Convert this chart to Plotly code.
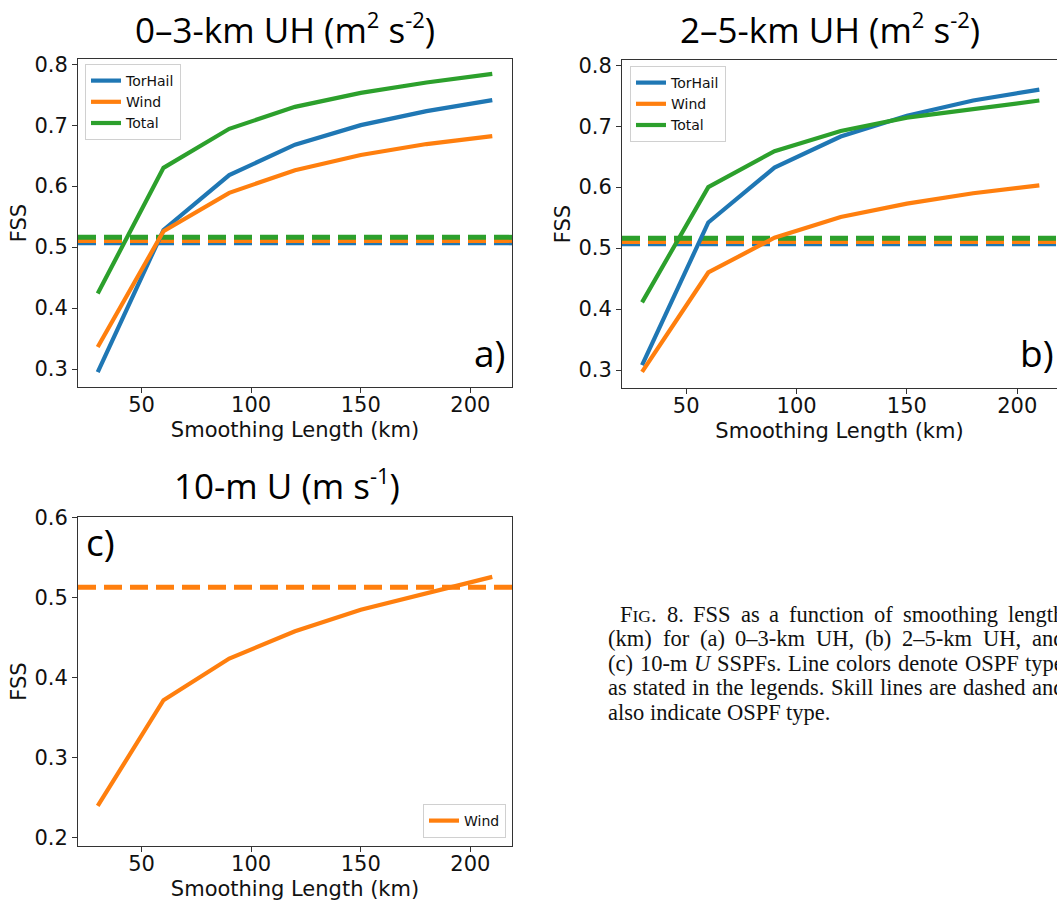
import plotly.graph_objects as go

W, H = 1057, 901

# ---------------- data ----------------
smoothing_km = [30, 60, 90, 120, 150, 180, 210]

a_torhail = [0.295, 0.528, 0.618, 0.668, 0.700, 0.723, 0.741]
a_wind = [0.336, 0.526, 0.589, 0.626, 0.651, 0.669, 0.682]
a_total = [0.424, 0.630, 0.694, 0.730, 0.753, 0.770, 0.784]
a_skill = {"TorHail": 0.507, "Wind": 0.511, "Total": 0.516}

b_torhail = [0.308, 0.542, 0.632, 0.683, 0.717, 0.742, 0.760]
b_wind = [0.297, 0.460, 0.517, 0.551, 0.573, 0.590, 0.603]
b_total = [0.411, 0.600, 0.659, 0.692, 0.714, 0.728, 0.742]
b_skill = {"TorHail": 0.507, "Wind": 0.511, "Total": 0.516}

c_wind = [0.240, 0.372, 0.424, 0.458, 0.485, 0.506, 0.526]
c_skill = {"Wind": 0.513}

x_ticks = [50, 100, 150, 200]
ab_yticks = [0.3, 0.4, 0.5, 0.6, 0.7, 0.8]
c_yticks = [0.2, 0.3, 0.4, 0.5, 0.6]

SUP = "<sup><span style='font-size:22px'>{}</span></sup>"
titles = ["0\u20133-km UH (m" + SUP.format("2") + " s" + SUP.format("-2") + ")",
          "2\u20135-km UH (m" + SUP.format("2") + " s" + SUP.format("-2") + ")",
          "10-m U (m s" + SUP.format("-1") + ")"]

caption_lines = [
    "F\u0001IG\u0002. 8. FSS as a function of smoothing length",
    "(km) for (a) 0\u20133-km UH, (b) 2\u20135-km UH, and",
    "(c) 10-m \u0003U\u0004 SSPFs. Line colors denote OSPF type",
    "as stated in the legends. Skill lines are dashed and",
    "also indicate OSPF type.",
]

colors = {"TorHail": "#1f77b4", "Wind": "#ff7f0e", "Total": "#2ca02c"}

# ---------------- layout helpers ----------------
def px_x(p):
    return p / W

def px_y(p):
    return 1 - p / H

fig = go.Figure()

panels = [
    ("a", "x", "y", (78, 512), (59, 387), [21, 219], [0.2705, 0.8085], ab_yticks),
    ("b", "x2", "y2", (622, 1057), (60, 388), [20.9, 218.0], [0.2705, 0.8085], ab_yticks),
    ("c", "x3", "y3", (78, 512), (517, 846), [21, 219], [0.19, 0.6007], c_yticks),
]

series = {
    "a": [("TorHail", a_torhail), ("Wind", a_wind), ("Total", a_total)],
    "b": [("TorHail", b_torhail), ("Wind", b_wind), ("Total", b_total)],
    "c": [("Wind", c_wind)],
}
skills = {"a": a_skill, "b": b_skill, "c": c_skill}
legend_ids = {"a": "legend", "b": "legend2", "c": "legend3"}

tick_font = dict(family="DejaVu Sans", size=21, color="#111111")
axis_line = "#333333"

shapes = []
for name, xa, ya, xd, yd, xr, yr, yt in panels:
    xkey = "xaxis" if xa == "x" else "xaxis" + xa[1:]
    ykey = "yaxis" if ya == "y" else "yaxis" + ya[1:]
    fig.update_layout({
        xkey: dict(domain=[px_x(xd[0]), min(1.0, px_x(xd[1]))], range=xr, anchor=ya,
                   tickvals=x_ticks, ticks="outside", ticklen=5, tickwidth=1,
                   tickcolor=axis_line, showline=True, linecolor=axis_line, linewidth=1,
                   mirror=True, showgrid=False, zeroline=False, tickfont=tick_font,
                   ticklabelstandoff=-6,
                   title=dict(text="Smoothing Length (km)", font=tick_font, standoff=6),
                   automargin=False),
        ykey: dict(domain=[px_y(yd[1]), px_y(yd[0])], range=yr, anchor=xa,
                   tickvals=yt, ticktext=[f"{v:.1f}" for v in yt], ticks="outside",
                   ticklen=5, tickwidth=1, tickcolor=axis_line, showline=True,
                   linecolor=axis_line, linewidth=1, mirror=(name != "b"),
                   showgrid=False, zeroline=False, tickfont=tick_font,
                   title=dict(text="FSS", font=tick_font, standoff=2),
                   automargin=False),
    })
    for sname, sval in skills[name].items():
        shapes.append(dict(type="line", xref=f"{xa} domain", yref=ya, x0=0, x1=1,
                           y0=sval, y1=sval, layer="below",
                           line=dict(color=colors[sname], width=5, dash="18px,8px")))
    for sname, vals in series[name]:
        fig.add_trace(go.Scatter(x=smoothing_km, y=vals, mode="lines", name=sname,
                                 xaxis=xa, yaxis=ya, legend=legend_ids[name],
                                 line=dict(color=colors[sname], width=4.2),
                                 showlegend=True))

legend_common = dict(font=dict(family="DejaVu Sans", size=14, color="#111111"),
                     bgcolor="rgba(255,255,255,0.9)", bordercolor="#d0d0d0",
                     borderwidth=1, xref="paper", yref="paper")
fig.update_layout(
    legend=dict(x=px_x(85), y=px_y(64), xanchor="left", yanchor="top", **legend_common),
    legend2=dict(x=px_x(630), y=px_y(66), xanchor="left", yanchor="top", **legend_common),
    legend3=dict(x=px_x(506), y=px_y(838), xanchor="right", yanchor="bottom", **legend_common),
)

annotations = []
title_font = dict(family="Open Sans", size=35, color="#000000")
title_pos = [(285, 28), (830, 28), (287, 484)]
for t, (tx, ty) in zip(titles, title_pos):
    annotations.append(dict(text=t, x=px_x(tx), y=px_y(ty), xref="paper", yref="paper",
                            xanchor="center", yanchor="middle", showarrow=False,
                            font=title_font))

letter_font = dict(family="Open Sans", size=37, color="#000")
annotations.append(dict(text="a)", x=px_x(507), y=px_y(380), xref="paper", yref="paper",
                        xanchor="right", yanchor="bottom", showarrow=False, font=letter_font))
annotations.append(dict(text="b)", x=px_x(1018), y=px_y(380), xref="paper", yref="paper",
                        xanchor="left", yanchor="bottom", showarrow=False, font=letter_font))
annotations.append(dict(text="c)", x=px_x(84), y=px_y(514), xref="paper", yref="paper",
                        xanchor="left", yanchor="top", showarrow=False, font=letter_font))

# ---------------- caption (justified, Times metrics) ----------------
TNR = {
    'a': 444, 'b': 500, 'c': 444, 'd': 500, 'e': 444, 'f': 333, 'g': 500, 'h': 500,
    'i': 278, 'j': 278, 'k': 500, 'l': 278, 'm': 778, 'n': 500, 'o': 500, 'p': 500,
    'q': 500, 'r': 333, 's': 389, 't': 278, 'u': 500, 'v': 500, 'w': 722, 'x': 500,
    'y': 500, 'z': 444, 'F': 556, 'G': 722, 'H': 722, 'I': 333, 'L': 611, 'O': 722,
    'P': 556, 'S': 556, 'U': 722, '(': 333, ')': 333, '.': 250, ',': 250, '-': 333,
    '\u2013': 500, ' ': 250,
}
for d in "0123456789":
    TNR[d] = 500

cap_size = 22.5
sc_size = 17.5
col_left, col_right = 607, 1063
indent = 12
line_y = [614, 638.5, 663, 687.5, 712]

def word_width(w):
    total = 0.0
    small = False
    for ch in w:
        if ch == "\u0001":
            small = True
            continue
        if ch == "\u0002":
            small = False
            continue
        if ch in "\u0003\u0004":
            continue
        size = sc_size if small else cap_size
        total += TNR.get(ch, 500) / 1000 * size
    return total

def word_html(w):
    return (w.replace("\u0001", f"<span style='font-size:{sc_size}px'>")
             .replace("\u0002", "</span>")
             .replace("\u0003", "<i>").replace("\u0004", "</i>"))

cap_font = dict(family="Liberation Serif", size=cap_size, color="#111111")
for i, line in enumerate(caption_lines):
    words = line.split(" ")
    left = col_left + (indent if i == 0 else 0)
    widths = [word_width(w) for w in words]
    justified = i < len(caption_lines) - 1
    if justified and len(words) > 1:
        gap = (col_right - left - sum(widths)) / (len(words) - 1)
    else:
        gap = TNR[' '] / 1000 * cap_size
    xpos = left
    for w, wd in zip(words, widths):
        annotations.append(dict(text=word_html(w), x=px_x(xpos), y=px_y(line_y[i]),
                                xref="paper", yref="paper", xanchor="left",
                                yanchor="middle", showarrow=False, font=cap_font,
                                borderpad=0))
        xpos += wd + gap

fig.update_layout(
    width=W, height=H, margin=dict(l=0, r=0, t=0, b=0),
    paper_bgcolor="white", plot_bgcolor="white",
    annotations=annotations, shapes=shapes,
    font=dict(family="DejaVu Sans", color="#111111"),
)

fig.write_html("out.html", config={"displayModeBar": False},
               post_script="document.body.style.margin='0px';document.body.style.overflow='hidden';")
